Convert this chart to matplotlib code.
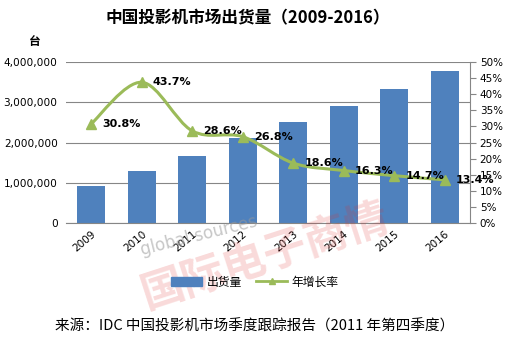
import numpy as np
import matplotlib.pyplot as plt
from matplotlib.path import Path
from matplotlib.patches import PathPatch, Patch
from matplotlib.lines import Line2D
from matplotlib.ticker import FuncFormatter

plt.rcParams['font.family'] = ['Noto Sans CJK SC', 'DejaVu Sans']

# data
years = ['2009', '2010', '2011', '2012', '2013', '2014', '2015', '2016']
shipments = [920000, 1300000, 1660000, 2120000, 2500000, 2910000, 3340000, 3780000]
growth = [30.8, 43.7, 28.6, 26.8, 18.6, 16.3, 14.7, 13.4]
growth_labels = ['30.8%', '43.7%', '28.6%', '26.8%', '18.6%', '16.3%', '14.7%', '13.4%']

bar_color = '#4F81BD'
line_color = '#9BBB59'

fig = plt.figure(figsize=(5.10, 3.44), dpi=100)
ax = fig.add_axes([0.1294, 0.3517, 0.7922, 0.4681])
x = np.arange(len(years))

ax.bar(x, shipments, width=0.55, color=bar_color, zorder=2)
ax.set_xlim(-0.5, len(years) - 0.5)
ax.set_ylim(0, 4000000)
ax.set_yticks([0, 1000000, 2000000, 3000000, 4000000])
ax.yaxis.set_major_formatter(FuncFormatter(lambda v, p: f'{int(v):,}'))
ax.grid(axis='y', color='#868686', lw=0.8, zorder=0)
ax.set_xticks(x)
ax.set_xticklabels(years, rotation=40, ha='right', rotation_mode='anchor',
                   fontsize=7.5, family='DejaVu Sans')
ax.tick_params(axis='y', length=0, labelsize=7.6, pad=6)
ax.tick_params(axis='x', length=0, pad=4)
for lab in ax.get_yticklabels():
    lab.set_family('DejaVu Sans')
for s in ['left', 'top', 'right']:
    ax.spines[s].set_visible(False)
ax.spines['bottom'].set_color('#868686')

ax2 = ax.twinx()
ax2.set_ylim(0, 50)
ax2.set_yticks(range(0, 51, 5))
ax2.yaxis.set_major_formatter(FuncFormatter(lambda v, p: f'{int(v)}%'))
ax2.tick_params(axis='y', length=4, color='#868686', labelsize=7.5, pad=3)
for lab in ax2.get_yticklabels():
    lab.set_family('DejaVu Sans')
for s in ['left', 'top', 'bottom']:
    ax2.spines[s].set_visible(False)
ax2.spines['right'].set_color('#868686')

# smoothed growth line (bezier through the points, like excel)
pts = np.column_stack([x, growth]).astype(float)
verts = [pts[0]]
codes = [Path.MOVETO]
n = len(pts)
for i in range(n - 1):
    p0 = pts[max(i - 1, 0)]
    p1 = pts[i]
    p2 = pts[i + 1]
    p3 = pts[min(i + 2, n - 1)]
    verts += [p1 + (p2 - p0) / 6, p2 - (p3 - p1) / 6, p2]
    codes += [Path.CURVE4] * 3
ax2.add_patch(PathPatch(Path(verts, codes), fill=False, edgecolor=line_color,
                        lw=2.2, zorder=3))
ax2.plot(x, growth, ls='none', marker='^', ms=7, color=line_color, zorder=4)
for xi, g, lab in zip(x, growth, growth_labels):
    ax2.text(xi + 0.22, g, lab, fontsize=8, fontweight='bold', va='center',
             ha='left', family='DejaVu Sans', zorder=5)

fig.text(0.485, 0.948, '中国投影机市场出货量（2009-2016）', ha='center', va='center',
         fontsize=12, fontweight='bold')
fig.text(0.069, 0.878, '台', ha='center', va='center', fontsize=8.5, fontweight='bold')

# watermark
fig.text(0.39, 0.315, 'global sources', color='#999999', alpha=0.55, fontsize=12,
         rotation=14, ha='center', va='center', family='DejaVu Sans')
fig.text(0.52, 0.255, '国际电子商情', color='#E0302E', alpha=0.18, fontsize=31,
         fontweight='bold', rotation=18, ha='center', va='center')

handles = [Patch(color=bar_color), Line2D([], [], color=line_color, lw=2, marker='^', ms=5)]
fig.legend(handles, ['出货量', '年增长率'], loc='center', bbox_to_anchor=(0.5, 0.18),
           ncol=2, frameon=False, fontsize=8.5, handlelength=2.6, columnspacing=1.2,
           handletextpad=0.4)

fig.text(0.5, 0.05, '来源：IDC 中国投影机市场季度跟踪报告（2011 年第四季度）',
         ha='center', va='center', fontsize=10.5)

fig.savefig('out.png', dpi=100)
